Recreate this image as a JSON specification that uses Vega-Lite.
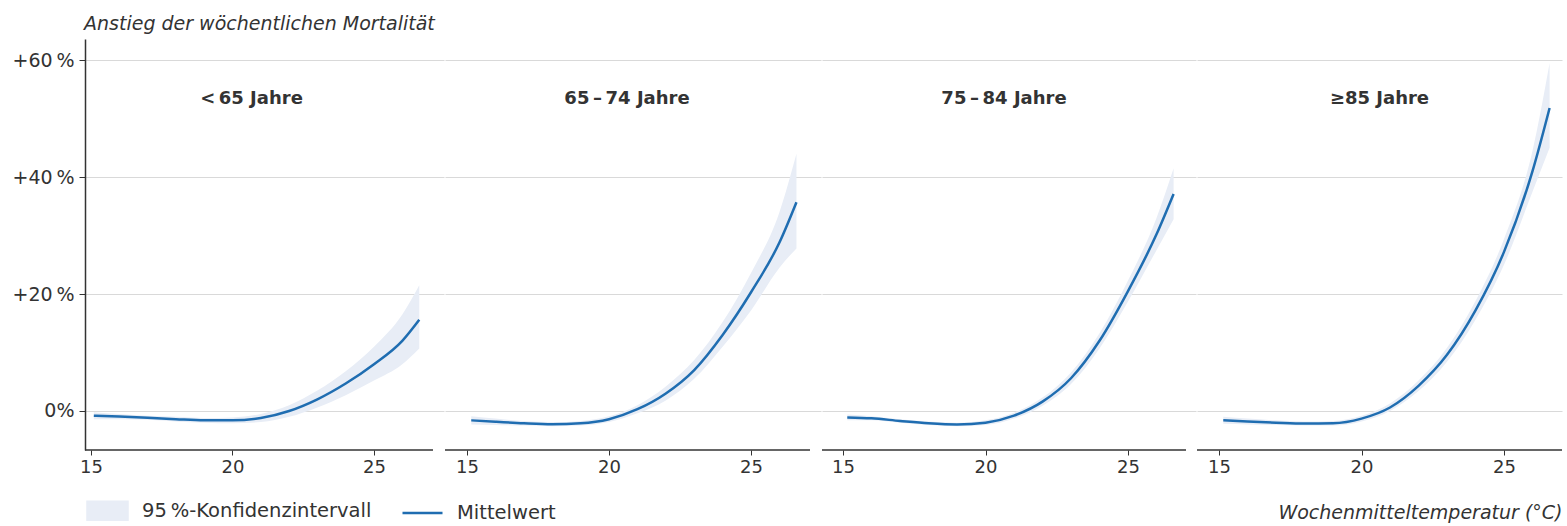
{
  "$schema": "https://vega.github.io/schema/vega-lite/v6.json",
  "padding": {"left": 12, "top": 15, "right": 7, "bottom": 0},
  "background": "white",
  "title": {"text": "Anstieg der wöchentlichen Mortalität", "anchor": "start", "frame": "bounds", "fontStyle": "italic", "fontWeight": "normal", "fontSize": 19, "font": "DejaVu Sans", "color": "#333333", "dx": 72, "offset": 5},
  "datasets": {
    "curves": [
      {"panel": 1, "temp": 15.1, "mean": -0.8, "lo": -1.4, "hi": -0.2},
      {"panel": 1, "temp": 16, "mean": -0.95, "lo": -1.4, "hi": -0.5},
      {"panel": 1, "temp": 17, "mean": -1.15, "lo": -1.5, "hi": -0.8},
      {"panel": 1, "temp": 18, "mean": -1.4, "lo": -1.8, "hi": -1.0},
      {"panel": 1, "temp": 19, "mean": -1.6, "lo": -2.0, "hi": -1.2},
      {"panel": 1, "temp": 20, "mean": -1.6, "lo": -2.1, "hi": -1.1},
      {"panel": 1, "temp": 21, "mean": -1.2, "lo": -1.9, "hi": -0.5},
      {"panel": 1, "temp": 22, "mean": 0.0, "lo": -1.0, "hi": 1.0},
      {"panel": 1, "temp": 23, "mean": 2.0, "lo": 0.6, "hi": 3.5},
      {"panel": 1, "temp": 24, "mean": 4.7, "lo": 2.7, "hi": 6.8},
      {"panel": 1, "temp": 25, "mean": 8.0, "lo": 5.2, "hi": 11.0},
      {"panel": 1, "temp": 26, "mean": 12.0, "lo": 8.0, "hi": 16.5},
      {"panel": 1, "temp": 26.6, "mean": 15.6, "lo": 10.7, "hi": 21.5},
      {"panel": 2, "temp": 15.15, "mean": -1.6, "lo": -2.3, "hi": -0.9},
      {"panel": 2, "temp": 16, "mean": -1.85, "lo": -2.4, "hi": -1.3},
      {"panel": 2, "temp": 17, "mean": -2.1, "lo": -2.5, "hi": -1.7},
      {"panel": 2, "temp": 18, "mean": -2.25, "lo": -2.6, "hi": -1.9},
      {"panel": 2, "temp": 19, "mean": -2.1, "lo": -2.5, "hi": -1.7},
      {"panel": 2, "temp": 20, "mean": -1.4, "lo": -1.9, "hi": -0.9},
      {"panel": 2, "temp": 21, "mean": 0.3, "lo": -0.4, "hi": 1.0},
      {"panel": 2, "temp": 22, "mean": 3.0, "lo": 1.8, "hi": 4.2},
      {"panel": 2, "temp": 23, "mean": 7.0, "lo": 5.5, "hi": 8.7},
      {"panel": 2, "temp": 24, "mean": 13.0, "lo": 11.0, "hi": 15.2},
      {"panel": 2, "temp": 25, "mean": 20.3, "lo": 17.2, "hi": 23.6},
      {"panel": 2, "temp": 26, "mean": 28.8, "lo": 24.5, "hi": 34.0},
      {"panel": 2, "temp": 26.6, "mean": 35.7, "lo": 27.8, "hi": 44.0},
      {"panel": 3, "temp": 15.15, "mean": -1.1, "lo": -1.6, "hi": -0.6},
      {"panel": 3, "temp": 16, "mean": -1.25, "lo": -1.6, "hi": -0.9},
      {"panel": 3, "temp": 17, "mean": -1.7, "lo": -2.0, "hi": -1.4},
      {"panel": 3, "temp": 18, "mean": -2.1, "lo": -2.4, "hi": -1.8},
      {"panel": 3, "temp": 19, "mean": -2.3, "lo": -2.6, "hi": -2.0},
      {"panel": 3, "temp": 20, "mean": -2.0, "lo": -2.4, "hi": -1.6},
      {"panel": 3, "temp": 21, "mean": -0.8, "lo": -1.3, "hi": -0.3},
      {"panel": 3, "temp": 22, "mean": 1.6, "lo": 0.9, "hi": 2.3},
      {"panel": 3, "temp": 23, "mean": 5.6, "lo": 4.6, "hi": 6.6},
      {"panel": 3, "temp": 24, "mean": 12.0, "lo": 10.7, "hi": 13.3},
      {"panel": 3, "temp": 25, "mean": 20.5, "lo": 18.7, "hi": 22.3},
      {"panel": 3, "temp": 26, "mean": 30.2, "lo": 27.5, "hi": 33.0},
      {"panel": 3, "temp": 26.6, "mean": 37.1, "lo": 32.8, "hi": 41.5},
      {"panel": 4, "temp": 15.15, "mean": -1.6, "lo": -2.2, "hi": -1.0},
      {"panel": 4, "temp": 16, "mean": -1.8, "lo": -2.3, "hi": -1.3},
      {"panel": 4, "temp": 17, "mean": -2.0, "lo": -2.4, "hi": -1.6},
      {"panel": 4, "temp": 18, "mean": -2.15, "lo": -2.5, "hi": -1.8},
      {"panel": 4, "temp": 19, "mean": -2.1, "lo": -2.5, "hi": -1.7},
      {"panel": 4, "temp": 20, "mean": -1.3, "lo": -1.8, "hi": -0.8},
      {"panel": 4, "temp": 21, "mean": 0.6, "lo": 0.0, "hi": 1.3},
      {"panel": 4, "temp": 22, "mean": 4.3, "lo": 3.4, "hi": 5.2},
      {"panel": 4, "temp": 23, "mean": 9.6, "lo": 8.4, "hi": 10.8},
      {"panel": 4, "temp": 24, "mean": 17.2, "lo": 15.6, "hi": 18.8},
      {"panel": 4, "temp": 25, "mean": 27.2, "lo": 25.0, "hi": 29.4},
      {"panel": 4, "temp": 26, "mean": 41.0, "lo": 37.5, "hi": 44.5},
      {"panel": 4, "temp": 26.6, "mean": 51.8, "lo": 45.0, "hi": 59.5}
    ]
  },
  "spacing": 0,
  "hconcat": [
    {
      "width": 359, "height": 411,
      "title": {"text": "<\u200965 Jahre", "anchor": "middle", "frame": "group", "dy": 73, "dx": -13},
      "layer": [
        {
          "data": {"name": "curves"},
          "transform": [{"filter": "datum.panel === 1"}],
          "mark": {"type": "area", "interpolate": "monotone"},
          "encoding": {
            "x": {"field": "temp", "type": "quantitative", "scale": {"domain": [14.788, 27.474], "nice": false, "zero": false},
                  "axis": {"values": [15, 20, 25], "grid": false, "domain": false, "title": null}},
            "y": {"field": "lo", "type": "quantitative", "scale": {"domain": [-6.67, 63.6], "nice": false, "zero": false},
                  "axis": {"values": [0, 20, 40, 60], "grid": true, "domain": true, "domainWidth": 1.5, "ticks": true, "tickSize": 6, "labelPadding": 5, "labelFontSize": 19, "minExtent": 70, "maxExtent": 70, "title": null,
                           "labelExpr": "datum.value === 0 ? '0%' : '+' + datum.value + '\u2009%'"}},
            "y2": {"field": "hi"},
            "color": {"datum": "95\u2009%-Konfidenzintervall", "type": "nominal",
                      "scale": {"domain": ["95\u2009%-Konfidenzintervall", "Mittelwert"], "range": ["#e8edf6", "#1f6db1"]},
                      "legend": {
                        "orient": "none", "legendX": 1, "legendY": 450, "direction": "horizontal", "title": null,
                        "symbolSize": 1600, "labelFontSize": 19.5, "labelFont": "DejaVu Sans", "labelColor": "#333333", "labelOffset": 13, "columnPadding": 25, "labelLimit": 0,
                        "encode": {"symbols": {"update": {
                          "shape": {"signal": "datum.label === 'Mittelwert' ? 'M-1,0H1' : 'M-1,-0.45H1V0.45H-1Z'"},
                          "fill": {"signal": "datum.label === 'Mittelwert' ? 'transparent' : '#e8edf6'"},
                          "stroke": {"signal": "datum.label === 'Mittelwert' ? '#1f6db1' : 'transparent'"},
                          "strokeWidth": {"value": 2.5},
                          "opacity": {"value": 1}
                        }}}
                      }}
          }
        },
        {
          "data": {"name": "curves"},
          "transform": [{"filter": "datum.panel === 1"}],
          "mark": {"type": "line", "interpolate": "monotone", "strokeWidth": 2.5},
          "encoding": {
            "x": {"field": "temp", "type": "quantitative"},
            "y": {"field": "mean", "type": "quantitative"},
            "color": {"datum": "Mittelwert", "type": "nominal"}
          }
        },
        {
          "data": {"values": [{"axis": "x"}]},
          "mark": {"type": "rule", "color": "#333333", "strokeWidth": 1.5},
          "encoding": {"x": {"datum": 14.788}, "x2": {"datum": 27.085}, "y": {"datum": -6.67}}
        }
      ]
    },
    {
      "width": 376, "height": 411,
      "title": {"text": "65\u2009–\u200974 Jahre", "anchor": "middle", "frame": "group", "dy": 73, "dx": -6},
      "layer": [
        {
          "data": {"name": "curves"},
          "transform": [{"filter": "datum.panel === 2"}],
          "mark": {"type": "area", "interpolate": "monotone"},
          "encoding": {
            "x": {"field": "temp", "type": "quantitative", "scale": {"domain": [14.225, 27.464], "nice": false, "zero": false},
                  "axis": {"values": [15, 20, 25], "grid": false, "domain": false, "title": null}},
            "y": {"field": "lo", "type": "quantitative", "scale": {"domain": [-6.67, 63.6], "nice": false, "zero": false},
                  "axis": {"values": [0, 20, 40, 60], "grid": true, "domain": false, "ticks": false, "labels": false, "minExtent": 0, "title": null}},
            "y2": {"field": "hi"},
            "color": {"datum": "95\u2009%-Konfidenzintervall", "type": "nominal"}
          }
        },
        {
          "data": {"name": "curves"},
          "transform": [{"filter": "datum.panel === 2"}],
          "mark": {"type": "line", "interpolate": "monotone", "strokeWidth": 2.5},
          "encoding": {
            "x": {"field": "temp", "type": "quantitative"},
            "y": {"field": "mean", "type": "quantitative"},
            "color": {"datum": "Mittelwert", "type": "nominal"}
          }
        },
        {
          "data": {"values": [{"axis": "x"}]},
          "mark": {"type": "rule", "color": "#333333", "strokeWidth": 1.5},
          "encoding": {"x": {"datum": 14.225}, "x2": {"datum": 27.077}, "y": {"datum": -6.67}}
        }
      ]
    },
    {
      "width": 374, "height": 411,
      "title": {"text": "75\u2009–\u200984 Jahre", "anchor": "middle", "frame": "group", "dy": 73, "dx": -5},
      "layer": [
        {
          "data": {"name": "curves"},
          "transform": [{"filter": "datum.panel === 3"}],
          "mark": {"type": "area", "interpolate": "monotone"},
          "encoding": {
            "x": {"field": "temp", "type": "quantitative", "scale": {"domain": [14.263, 27.386], "nice": false, "zero": false},
                  "axis": {"values": [15, 20, 25], "grid": false, "domain": false, "title": null}},
            "y": {"field": "lo", "type": "quantitative", "scale": {"domain": [-6.67, 63.6], "nice": false, "zero": false},
                  "axis": {"values": [0, 20, 40, 60], "grid": true, "domain": false, "ticks": false, "labels": false, "minExtent": 0, "title": null}},
            "y2": {"field": "hi"},
            "color": {"datum": "95\u2009%-Konfidenzintervall", "type": "nominal"}
          }
        },
        {
          "data": {"name": "curves"},
          "transform": [{"filter": "datum.panel === 3"}],
          "mark": {"type": "line", "interpolate": "monotone", "strokeWidth": 2.5},
          "encoding": {
            "x": {"field": "temp", "type": "quantitative"},
            "y": {"field": "mean", "type": "quantitative"},
            "color": {"datum": "Mittelwert", "type": "nominal"}
          }
        },
        {
          "data": {"values": [{"axis": "x"}]},
          "mark": {"type": "rule", "color": "#333333", "strokeWidth": 1.5},
          "encoding": {"x": {"datum": 14.263}, "x2": {"datum": 27.035}, "y": {"datum": -6.67}}
        }
      ]
    },
    {
      "width": 365, "height": 411,
      "title": {"text": "≥85 Jahre", "anchor": "middle", "frame": "group", "dy": 73, "dx": 0},
      "layer": [
        {
          "data": {"name": "curves"},
          "transform": [{"filter": "datum.panel === 4"}],
          "mark": {"type": "area", "interpolate": "monotone"},
          "encoding": {
            "x": {"field": "temp", "type": "quantitative", "scale": {"domain": [14.228, 27.035], "nice": false, "zero": false},
                  "axis": {"values": [15, 20, 25], "grid": false, "domain": false, "title": "Wochenmitteltemperatur (°C)", "titleAnchor": "end", "titleFontStyle": "italic", "titleFontWeight": "normal", "titleFontSize": 19, "titlePadding": 27, "titleColor": "#333333", "titleFont": "DejaVu Sans"}},
            "y": {"field": "lo", "type": "quantitative", "scale": {"domain": [-6.67, 63.6], "nice": false, "zero": false},
                  "axis": {"values": [0, 20, 40, 60], "grid": true, "domain": false, "ticks": false, "labels": false, "minExtent": 0, "title": null}},
            "y2": {"field": "hi"},
            "color": {"datum": "95\u2009%-Konfidenzintervall", "type": "nominal"}
          }
        },
        {
          "data": {"name": "curves"},
          "transform": [{"filter": "datum.panel === 4"}],
          "mark": {"type": "line", "interpolate": "monotone", "strokeWidth": 2.5},
          "encoding": {
            "x": {"field": "temp", "type": "quantitative"},
            "y": {"field": "mean", "type": "quantitative"},
            "color": {"datum": "Mittelwert", "type": "nominal"}
          }
        },
        {
          "data": {"values": [{"axis": "x"}]},
          "mark": {"type": "rule", "color": "#333333", "strokeWidth": 1.5},
          "encoding": {"x": {"datum": 14.228}, "x2": {"datum": 27.035}, "y": {"datum": -6.67}}
        }
      ]
    }
  ],
  "config": {
    "view": {"stroke": null},
    "font": "DejaVu Sans",
    "title": {"font": "DejaVu Sans", "fontSize": 18, "fontWeight": "bold", "color": "#333333"},
    "axis": {"labelFont": "DejaVu Sans", "labelFontSize": 18, "labelColor": "#333333", "tickColor": "#333333", "domainColor": "#333333", "gridColor": "#d9d9d9", "gridWidth": 1, "tickSize": 5, "labelPadding": 3}
  }
}
